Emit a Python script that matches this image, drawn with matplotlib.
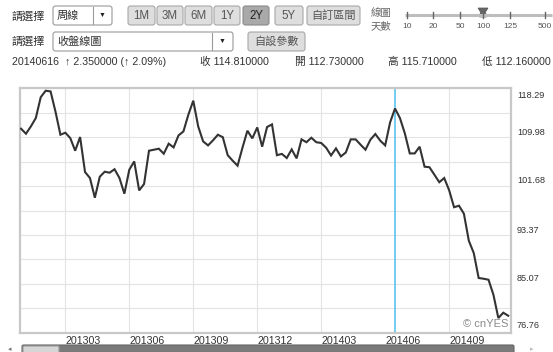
import numpy as np
import pandas as pd
import matplotlib
matplotlib.use("Agg")
import matplotlib.pyplot as plt
from matplotlib.patches import FancyBboxPatch, Polygon
from matplotlib.transforms import offset_copy

plt.rcParams['font.family'] = ['Liberation Sans', 'Noto Sans CJK TC', 'DejaVu Sans']

# ── data: weekly closes ──────────────────────────────────────
first_week = "2012-12-31"
closes = [111.39, 110.54, 111.78, 113.20, 116.73, 117.83, 117.71, 114.27, 110.37, 110.71,
          109.81, 107.66, 109.98, 104.05, 103.03, 99.69, 103.25, 104.10, 103.93, 104.52,
          103.03, 100.37, 104.44, 105.85, 100.93, 102.02, 107.66, 107.83, 108.00, 107.15,
          108.85, 108.22, 110.25, 110.93, 113.76, 116.14, 111.78, 109.24, 108.56, 109.41,
          110.37, 109.95, 106.90, 105.97, 105.12, 108.17, 111.05, 109.75, 111.61, 108.34,
          111.68, 112.12, 106.90, 107.12, 106.42, 107.88, 106.36, 109.58, 109.10, 109.86,
          109.10, 108.97, 108.17, 106.86, 108.05, 106.69, 107.36, 109.58, 109.58, 108.68,
          107.83, 109.53, 110.49, 109.36, 108.56, 112.46, 114.81, 113.20, 110.58, 107.20,
          107.20, 108.34, 104.95, 104.86, 103.59, 102.32, 103.03, 100.96, 98.08, 98.34,
          96.98, 92.40, 90.32, 86.08, 85.96, 85.79, 83.25, 79.30, 80.20, 79.69]
dates = pd.date_range(first_week, periods=len(closes), freq="7D")
cursor_date = pd.Timestamp("2014-06-16")

y_labels = [118.29, 109.98, 101.68, 93.37, 85.07, 76.76]
x_tick_dates = pd.to_datetime(["2013-03-04", "2013-06-03", "2013-09-02", "2013-12-02",
                               "2014-03-03", "2014-06-02", "2014-09-01"])
x_tick_labels = ["201303", "201306", "201309", "201312", "201403", "201406", "201409"]

period_buttons = ["1M", "3M", "6M", "1Y", "2Y", "5Y"]
active_period = "2Y"
slider_days = ["10", "20", "50", "100", "125", "500"]
slider_active = "100"

quote_line = "20140616  \u2191 2.350000 (\u2191 2.09%)"
quote_names = ["收", "開", "高", "低"]
quote_values = ["114.810000", "112.730000", "115.710000", "112.160000"]

# ── figure ───────────────────────────────────────────────────
W, H = 553, 352
fig = plt.figure(figsize=(W / 100, H / 100), dpi=100)
fig.patch.set_facecolor("white")

# pixel-space layer for the widget header
bg = fig.add_axes([0, 0, 1, 1])
bg.set_xlim(0, W)
bg.set_ylim(H, 0)
bg.axis("off")


def box(x0, y0, x1, y1, fc, ec="#9a9a9a", r=2.5, lw=0.8):
    bg.add_patch(FancyBboxPatch((x0, y0), x1 - x0, y1 - y0,
                                boxstyle=f"round,pad=0,rounding_size={r}",
                                fc=fc, ec=ec, lw=lw))


txt = dict(fontsize=8, color="#333333", va="center")

# row 1
bg.text(12, 16, "請選擇", **txt)
box(53, 6, 112, 25, "white")
bg.text(57, 15.5, "周線", **txt)
bg.plot([93, 93], [7, 24], color="#9a9a9a", lw=0.8)
bg.text(102, 15.5, "\u25BC", fontsize=5, color="#222222", ha="center", va="center")

btn_x = [128, 157, 185, 214, 243, 275]
btn_w = [27, 26, 27, 26, 26, 28]
for lab, x, w in zip(period_buttons, btn_x, btn_w):
    on = lab == active_period
    box(x, 6, x + w, 25, "#a9a9a9" if on else "#dedede",
        ec="#8a8a8a" if on else "#a8a8a8")
    bg.text(x + w / 2, 16, lab, fontsize=8.3, ha="center", va="center",
            color="#222222" if on else "#555555")
box(307, 6, 360, 25, "#dedede", ec="#a8a8a8")
bg.text(333.5, 16, "自訂區間", fontsize=8, ha="center", va="center", color="#555555")

# slider
bg.text(371, 13, "線圖", fontsize=7.5, color="#666666", va="center")
bg.text(371, 26, "天數", fontsize=7.5, color="#666666", va="center")
bg.plot([405, 552], [15, 15], color="#bdbdbd", lw=2.2, solid_capstyle="butt")
slider_x = [407, 433, 460, 483, 510, 545]
for lab, x in zip(slider_days, slider_x):
    bg.plot([x, x], [12, 18], color="#666666", lw=1)
    bg.text(x, 26, lab, fontsize=6, color="#555555", ha="center", va="center")
    if lab == slider_active:
        bg.add_patch(Polygon([(478, 8), (488, 8), (485.5, 12), (486.5, 17),
                              (479.5, 17), (480.5, 12)], closed=True,
                             fc="#666666", ec="#555555", lw=0.5))

# row 2
bg.text(12, 41.5, "請選擇", **txt)
box(53, 32, 233, 51, "white")
bg.text(57, 41.5, "收盤線圖", **txt)
bg.plot([212, 212], [33, 50], color="#9a9a9a", lw=0.8)
bg.text(222, 41.5, "\u25BC", fontsize=5, color="#222222", ha="center", va="center")
box(248, 32, 305, 51, "#dedede", ec="#a8a8a8")
bg.text(276.5, 41.5, "自設參數", fontsize=8, ha="center", va="center", color="#555555")

# row 3 - quote
qtxt = dict(fontsize=7.7, color="#333333", va="center")
bg.text(12, 62, quote_line, **qtxt)
for nm, val, x in zip(quote_names, quote_values, [200, 295, 388, 482]):
    bg.text(x, 62, nm + " " + val, **qtxt)

# bottom scroll bar
box(22, 345, 514, 356, "#7a7a7a", ec="#666666", r=1.5)
box(23, 346, 59, 356, "#d6d6d6", ec="#999999", r=1)
bg.text(10, 350, "\u25C2", fontsize=5, color="#777777", ha="center", va="center")
bg.text(532, 350, "\u25B8", fontsize=5, color="#bbbbbb", ha="center", va="center")

# ── chart ────────────────────────────────────────────────────
ax = fig.add_axes([20 / W, (H - 333) / H, 491 / W, 245 / H])
ax.set_facecolor("white")

ax.plot(dates, closes, color="#333333", lw=1.5, zorder=3, solid_joinstyle="miter")
ax.axvline(cursor_date, color="#5bc4ee", lw=1.2, zorder=2)

ax.set_xlim(dates[0] - pd.Timedelta(days=1.5), dates[-1] + pd.Timedelta(days=4))
ax.set_ylim(y_labels[-1], y_labels[0])

mids = [(a + b) / 2 for a, b in zip(y_labels[:-1], y_labels[1:])]
ax.set_yticks(sorted(y_labels + mids))
ax.set_yticklabels([])
ax.set_xticks(x_tick_dates)
ax.set_xticklabels(x_tick_labels, ha="left", fontsize=7.7, color="#333333")
ax.tick_params(axis="both", length=0, pad=2.5)
ax.grid(True, color="#e3e3e3", lw=0.8, zorder=0)
# the reference hides the month line next to the cursor
ax.xaxis.get_gridlines()[5].set_visible(False)

for s in ax.spines.values():
    s.set_color("#c8c8c8")
    s.set_linewidth(1.6)

# right-hand price labels sit just above their grid line
for i, v in enumerate(y_labels):
    if i == 0:
        dy = -7.4
    elif i == len(y_labels) - 1:
        dy = 7.3
    else:
        dy = 5
    tr = offset_copy(ax.get_yaxis_transform(), fig=fig, x=6, y=dy, units="dots")
    ax.text(1.0, v, f"{v:.2f}", transform=tr, fontsize=6.6, color="#333333",
            ha="left", va="center", clip_on=False)

ax.text(0.9945, 0.038, "\u00A9 cnYES", transform=ax.transAxes, fontsize=8,
        color="#8a8a8a", ha="right", va="center")

plt.savefig("out.png", dpi=100)
